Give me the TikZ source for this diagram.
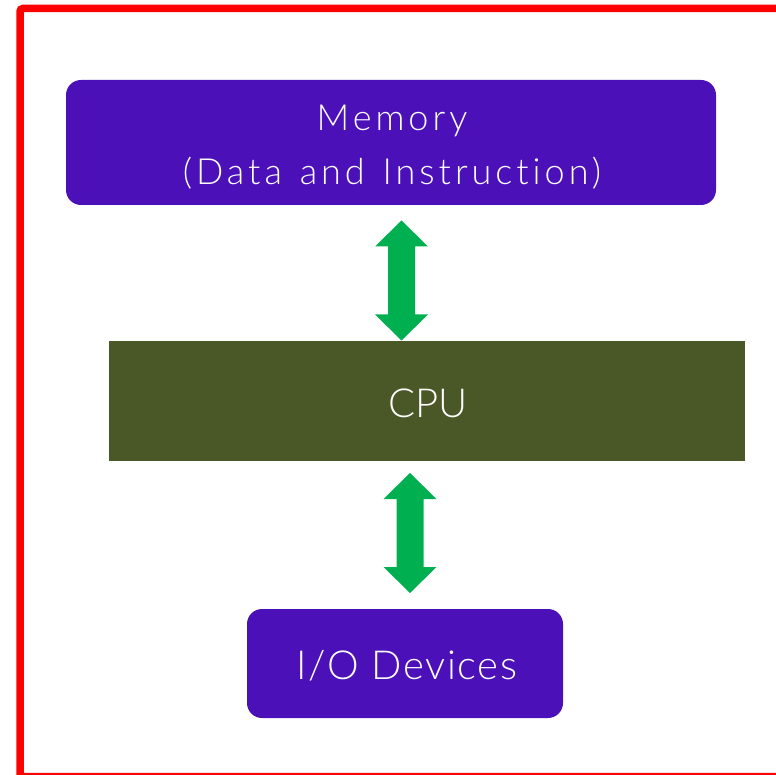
\documentclass[tikz,border=0pt]{standalone}
\usepackage{fontspec}
\setmainfont{Lato Light}[Ligatures={NoCommon,NoRare}]
\newfontfamily\memfont{Lato Light}[LetterSpace=11,WordSpace=1.3,Ligatures={NoCommon,NoRare}]
\newfontfamily\iofont{Lato Light}[LetterSpace=4,Ligatures={NoCommon,NoRare}]
\definecolor{memc}{HTML}{4C10B9}
\definecolor{cpuc}{HTML}{4A5726}
\definecolor{arrc}{HTML}{00B050}
\begin{document}
\begin{tikzpicture}[x=1pt,y=-1pt,
  purplebox/.style={fill=memc, rounded corners=15pt, inner sep=0pt},
  cpubox/.style={fill=cpuc, inner sep=0pt},
  lbl/.style={text=white, align=center, inner sep=0pt},
  dbl/.pic={\fill[arrc] (0,0) -- (26.5,26) -- (13.5,26) -- (13.5,94) -- (26.5,94) -- (0,120)
      -- (-26.5,94) -- (-13.5,94) -- (-13.5,26) -- (-26.5,26) -- cycle;}]
\useasboundingbox (0,0) rectangle (776,775);
\clip (0,0) rectangle (776,775);
\draw[red, line width=7.5pt, rounded corners=3pt] (20,8.5) rectangle (790,776.5);
\node[purplebox, minimum width=650pt, minimum height=125pt] (mem) at (391,142.5) {};
\node[lbl, font=\memfont\fontsize{36}{54}\selectfont] (memtext) at (392,147.5) {Memory\\(Data and Instruction)};
\node[cpubox, minimum width=636pt, minimum height=120pt] (cpu) at (427,401) {};
\node[lbl, font=\fontsize{40}{48}\selectfont] (cputext) at (428,403.5) {CPU};
\node[purplebox, minimum width=316pt, minimum height=109pt] (io) at (405,663.5) {};
\node[lbl, font=\iofont\fontsize{40}{48}\selectfont] (iotext) at (407,665.5) {I/O Devices};
\pic at (401.5,220.5) {dbl};
\pic at (410,473) {dbl};
\end{tikzpicture}
\end{document}
